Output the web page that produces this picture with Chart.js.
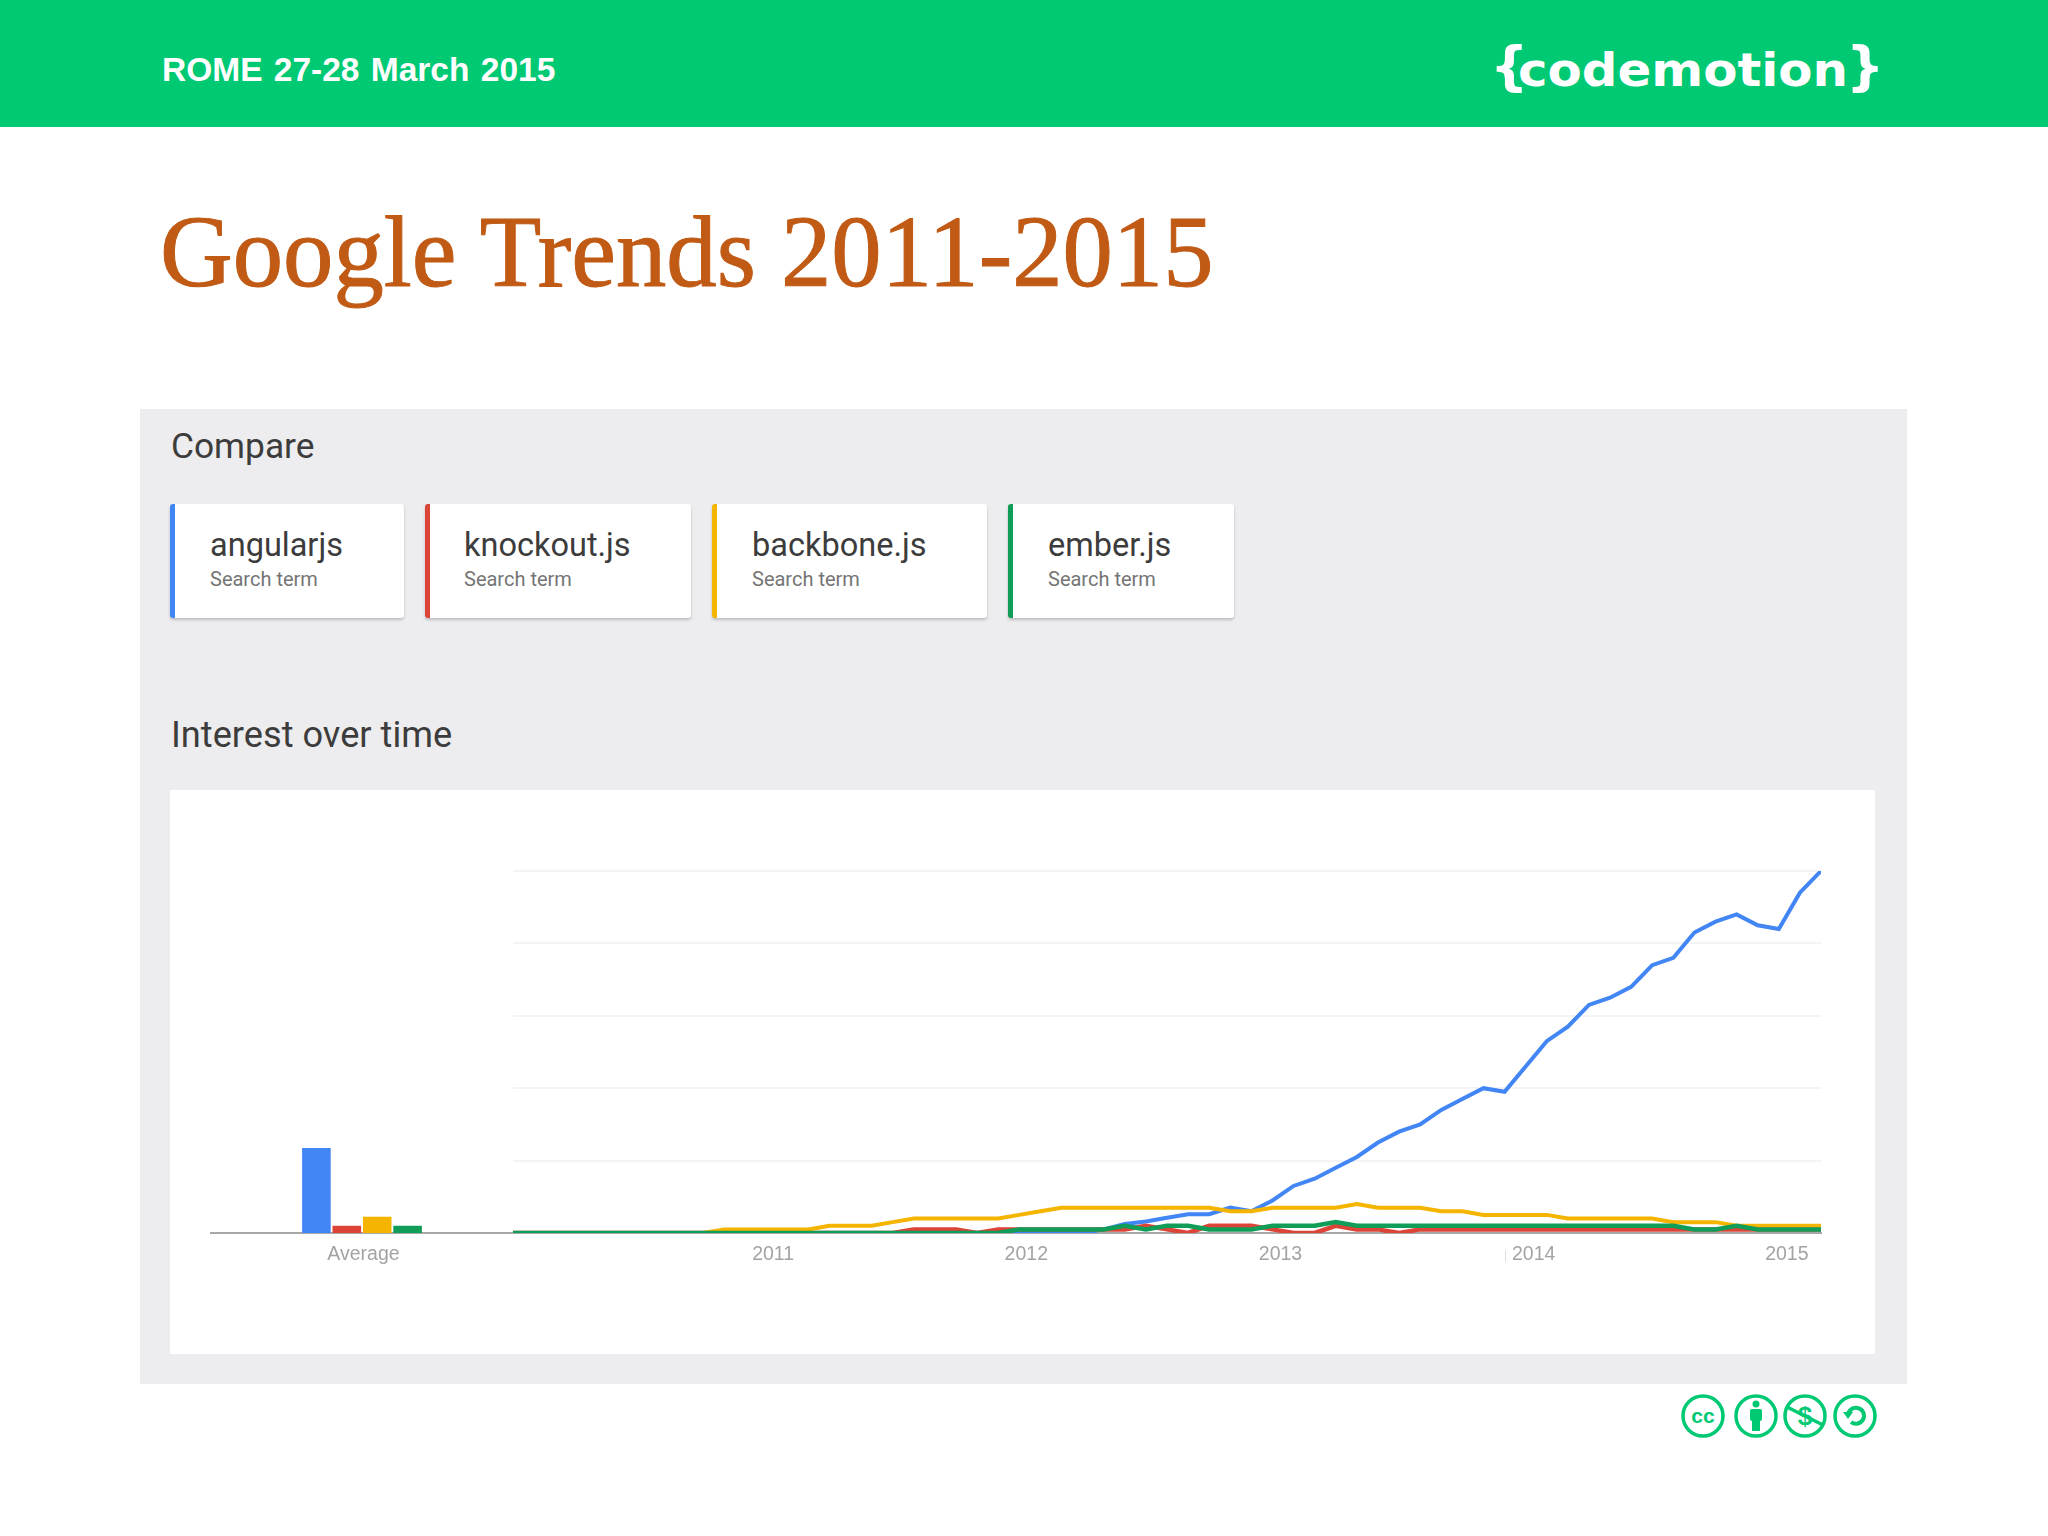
<!DOCTYPE html>
<html>
<head>
<meta charset="utf-8">
<title>Google Trends 2011-2015</title>
<script src="https://cdn.jsdelivr.net/npm/chart.js@4/dist/chart.umd.min.js"></script>
<style>
html,body{margin:0;padding:0;background:#fff;}
body{width:2048px;height:1536px;position:relative;overflow:hidden;font-family:Roboto,sans-serif;}
.abs{position:absolute;white-space:nowrap;}
#header{left:0;top:0;width:2048px;height:127px;background:#00c974;}
#rome{left:162px;top:48px;font:bold 33.5px/44px "Liberation Sans",sans-serif;color:#fff;word-spacing:2px;}
#title{left:160px;top:192px;font:100.7px/120px "Liberation Serif",serif;color:#c05a14;-webkit-text-stroke:1px #c05a14;}
#panel{left:140px;top:409px;width:1767px;height:975px;background:#edecee;}
.heading{left:171px;font:35.3px/44px Roboto,sans-serif;color:#3c3c3c;}
.card{top:504px;height:114px;background:#fff;border-radius:3px;box-shadow:0 2px 3px rgba(0,0,0,.2);box-sizing:border-box;border-left:5px solid;}
.card b{position:absolute;top:21px;font:400 32.5px/40px Roboto,sans-serif;color:#3c3c3c;}
.card i{position:absolute;top:61px;font:400 20px/28px Roboto,sans-serif;color:#757575;}
#plotBg{left:170px;top:790px;width:1705px;height:564px;background:#fff;}
canvas{position:absolute;display:block;}
#yearMark{left:1505px;top:1250px;width:1px;height:12px;background:#ddd;}
</style>
</head>
<body>
<div class="abs" id="header"></div>
<div class="abs" id="rome">ROME 27-28 March 2015</div>
<svg class="abs" style="left:1480px;top:30px" width="410" height="80" viewBox="0 0 410 80">
  <text x="10" y="55" font-family="DejaVu Sans" font-weight="bold" font-size="54" fill="#fff">{</text>
  <text x="38" y="56" font-family="DejaVu Sans" font-weight="bold" font-size="46" fill="#fff" textLength="330" lengthAdjust="spacingAndGlyphs">codemotion</text>
  <text x="366" y="55" font-family="DejaVu Sans" font-weight="bold" font-size="54" fill="#fff">}</text>
</svg>
<div class="abs" id="title">Google Trends 2011-2015</div>
<div class="abs" id="panel"></div>
<div class="abs heading" style="top:424px">Compare</div>
<div class="abs card" style="left:170px;width:234px;border-color:#4285f4"><b style="left:35px">angularjs</b><i style="left:35px">Search term</i></div>
<div class="abs card" style="left:425px;width:266px;border-color:#db4437"><b style="left:34px">knockout.js</b><i style="left:34px">Search term</i></div>
<div class="abs card" style="left:712px;width:275px;border-color:#f4b400"><b style="left:35px">backbone.js</b><i style="left:35px">Search term</i></div>
<div class="abs card" style="left:1008px;width:226px;border-color:#0f9d58"><b style="left:35px">ember.js</b><i style="left:35px">Search term</i></div>
<div class="abs heading" style="top:713px;font-size:36.2px">Interest over time</div>
<div class="abs" id="plotBg"></div>
<canvas id="avgChart" width="304" height="430" style="left:210px;top:860px"></canvas>
<canvas id="trendChart" width="1320" height="430" style="left:513px;top:860px"></canvas>
<div class="abs" id="yearMark"></div>
<svg class="abs" style="left:1675px;top:1390px" width="210" height="54" viewBox="0 0 210 54" fill="none" stroke="#00c974" stroke-width="3.5">
  <circle cx="28" cy="26" r="20"/>
  <text x="28" y="33" text-anchor="middle" font-family="Liberation Sans" font-weight="bold" font-size="21" fill="#00c974" stroke="none">cc</text>
  <circle cx="81" cy="26" r="20"/>
  <circle cx="81" cy="14" r="3.5" fill="#00c974" stroke="none"/>
  <rect x="75" y="19" width="12" height="12" rx="2" fill="#00c974" stroke="none"/>
  <rect x="77" y="30" width="8" height="11" fill="#00c974" stroke="none"/>
  <circle cx="130" cy="26" r="20"/>
  <text x="130" y="35" text-anchor="middle" font-family="Liberation Sans" font-weight="bold" font-size="26" fill="#00c974" stroke="none">$</text>
  <line x1="112" y1="17" x2="148" y2="35"/>
  <circle cx="180" cy="26" r="20"/>
  <path d="M173 26 a8 8 0 1 1 3 6" stroke-width="4"/>
  <path d="M168 22 l5 7 l5 -7z" fill="#00c974" stroke="none"/>
</svg>
<script>
const yearLabels = ["2011","2012","2013","2014","2015"];
const yearPositions = [12.33,24.33,36.38,48.38,60.38];
const gridValues = [0,20,40,60,80,100];
const terms = ["angularjs","knockout.js","backbone.js","ember.js"];
const termColors = ["#4285f4","#db4437","#f4b400","#0f9d58"];
const lineWidths = [4,4.5,4,4.5];
const averages = [23.5,2,4.5,2];

const angularjs = [0,0,0,0,0,0,0,0,0,0,0,0,0,0,0,0,0,0,0,0,0,0,0,0,0,0,0,0,1,2.5,3.2,4.2,5.2,5.2,7,6,9,13,15,18,21,25,28,30,34,37,40,39,46,53,57,63,65,68,74,76,83,86,88,85,84,94,100];
const knockout = [0,0,0,0,0,0,0,0,0,0,0,0,0,0,0,0,0,0,0,1,1,1,0,1,1,1,1,1,1,1,2,1,0,2,2,2,1,0,0,2,1,1,0,1,1,1,1,1,1,1,1,1,1,1,1,1,1,1,1,1,1,1,1];
const backbone = [0,0,0,0,0,0,0,0,0,0,1,1,1,1,1,2,2,2,3,4,4,4,4,4,5,6,7,7,7,7,7,7,7,7,6,6,7,7,7,7,8,7,7,7,6,6,5,5,5,5,4,4,4,4,4,3,3,3,2,2,2,2,2];
const ember = [0,0,0,0,0,0,0,0,0,0,0,0,0,0,0,0,0,0,0,0,0,0,0,0,1,1,1,1,1,2,1,2,2,1,1,1,2,2,2,3,2,2,2,2,2,2,2,2,2,2,2,2,2,2,2,2,1,1,2,1,1,1,1];
const series = [angularjs,knockout,backbone,ember];

const tickFont = { family:"Liberation Sans", size:19.5 };
const tickColor = "#a3a3a3";
const baseLine = { display:true, color:"#a8a8a8", width:2 };

function bottomAxisHeight(scale){ scale.height = 57; }

new Chart(document.getElementById("avgChart").getContext("2d"), {
  type:"bar",
  data:{
    labels:["Average"],
    datasets:terms.map((t,i) => ({ label:t, data:[averages[i]], backgroundColor:termColors[i], categoryPercentage:.4, barPercentage:.94 }))
  },
  options:{
    responsive:false,
    animation:false,
    layout:{ padding:{ top:11, left:0, right:0, bottom:0 } },
    plugins:{ legend:{ display:false }, tooltip:{ enabled:false } },
    scales:{
      x:{ afterFit:bottomAxisHeight, grid:{ display:false, drawTicks:false }, border:baseLine, ticks:{ color:tickColor, font:tickFont, padding:10, labelOffset:1.5 } },
      y:{ display:false, min:0, max:100 }
    }
  }
});

new Chart(document.getElementById("trendChart").getContext("2d"), {
  type:"line",
  data:{
    // lower order draws on top, ember has to end up over the others
    datasets:terms.map((t,i) => ({
      label:t,
      order:terms.length - i,
      data:series[i].map((v,n) => ({ x:n, y:v })),
      borderColor:termColors[i],
      borderWidth:lineWidths[i],
      pointRadius:0,
      tension:0
    }))
  },
  options:{
    responsive:false,
    animation:false,
    layout:{ padding:{ top:11, left:0, right:12, bottom:0 } },
    plugins:{ legend:{ display:false }, tooltip:{ enabled:false } },
    scales:{
      x:{
        type:"linear", min:0, max:62,
        afterFit:bottomAxisHeight,
        afterBuildTicks:scale => { scale.ticks = yearPositions.map(v => ({ value:v })); },
        grid:{ display:false, drawTicks:false },
        border:baseLine,
        ticks:{ color:tickColor, font:tickFont, padding:10, autoSkip:false, maxRotation:0, callback:v => yearLabels[yearPositions.indexOf(v)] }
      },
      y:{
        min:0, max:100,
        afterBuildTicks:scale => { scale.ticks = gridValues.map(v => ({ value:v })); },
        grid:{ color:"#f4f3f5", lineWidth:2, drawTicks:false },
        border:{ display:false },
        ticks:{ display:false }
      }
    }
  }
});
</script>
</body>
</html>
